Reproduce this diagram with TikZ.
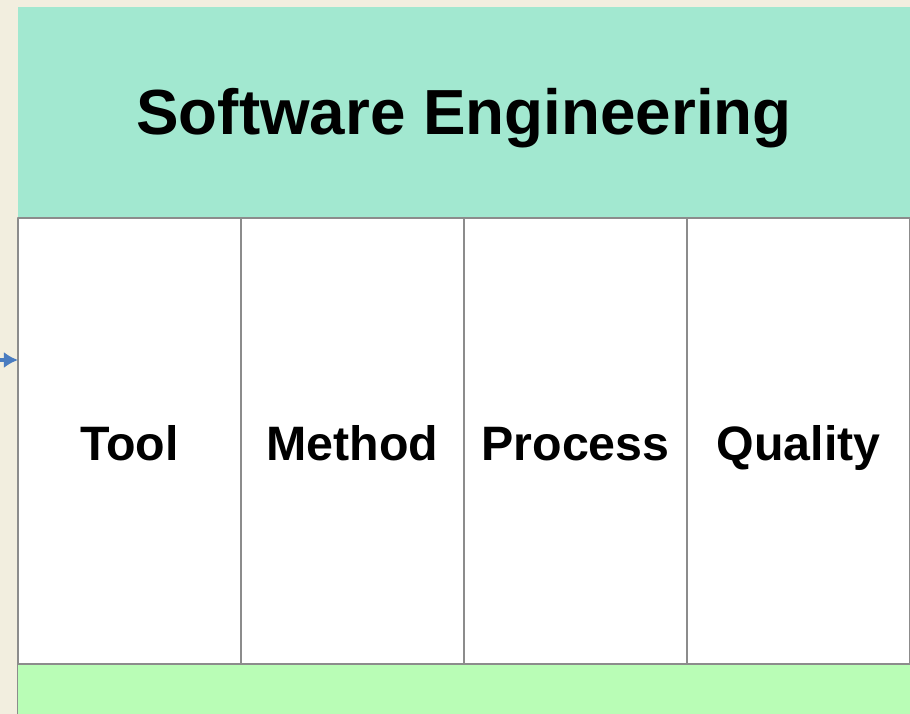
\documentclass[tikz,border=0pt]{standalone}
\usepackage{fontspec}
\setmainfont{Liberation Sans}
\usetikzlibrary{arrows.meta}
\definecolor{mapcream}{HTML}{F2EEDF}
\definecolor{headteal}{HTML}{A2E8D0}
\definecolor{footgreen}{HTML}{B9FDB6}
\definecolor{arrowblue}{HTML}{4A7CC0}
\definecolor{rulegray}{HTML}{8C8C8C}
\tikzset{
  pillar/.style={draw=rulegray,line width=1.2bp,fill=white,inner sep=0pt,outer sep=0pt,
    minimum width=223bp,minimum height=446bp,text height=38bp,text depth=0bp,
    font=\fontsize{48.5}{54}\selectfont\bfseries},
  band/.style={draw=rulegray,line width=1bp,inner sep=0pt,outer sep=0pt,minimum width=892bp},
}
\begin{document}
\begin{tikzpicture}[x=1bp,y=-1bp,>=latex,line join=bevel,]
%%
\useasboundingbox (0,0) rectangle (910,714);
\fill [mapcream] (0,0) rectangle (910,714);
\node (title) at (464,112.5) [band,draw=none,fill=headteal,minimum height=211bp,text height=45bp,text depth=0bp,font=\fontsize{64}{70}\selectfont\bfseries] {Software Engineering};
  \node (tool) at (129.5,441) [pillar] {Tool};
  \node (method) at (352.5,441) [pillar] {Method};
  \node (process) at (575.5,441) [pillar] {Process};
  \node (quality) at (798.5,441) [pillar] {Quality};
  \node (base) at (464,689) [band,fill=footgreen,minimum height=50bp] {};
%
\coordinate (entry) at (0,360);
  \draw [arrowblue,line width=4bp,-{Latex[length=14bp,width=16bp]}] (entry) -- (entry -| tool.west);
%
\end{tikzpicture}
\end{document}
